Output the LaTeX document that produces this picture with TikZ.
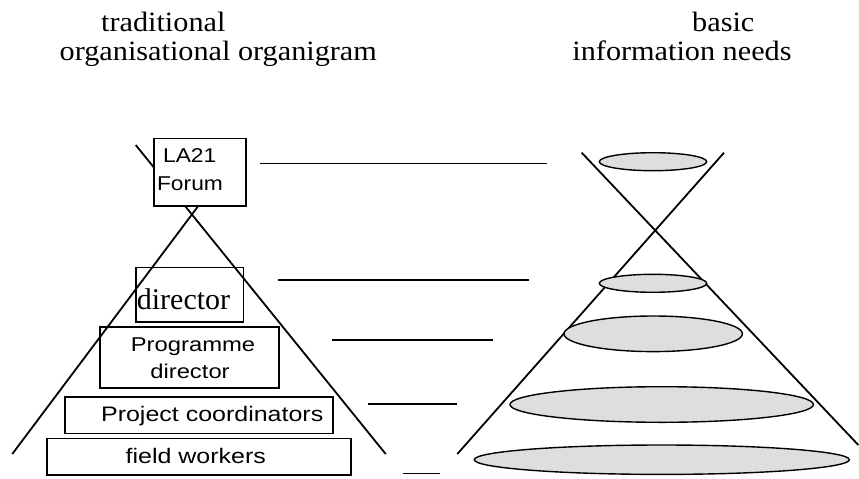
\documentclass[tikz,border=0pt]{standalone}
\usepackage{fontspec}
\usetikzlibrary{shapes.geometric}
\newfontfamily\titlefont[FakeStretch=1.08]{Liberation Serif}
\newfontfamily\boxserif{Liberation Serif}
\newfontfamily\boxsans[FakeStretch=1.19]{Liberation Sans}
\newfontfamily\boxsansnarrow[FakeStretch=1.14]{Liberation Sans}
\definecolor{discgray}{HTML}{DEDEDE}
\begin{document}
\begin{tikzpicture}[x=1pt,y=-1pt,
  title/.style={anchor=base,inner sep=0pt,font=\titlefont\fontsize{28}{33}\selectfont},
  sanslbl/.style={anchor=base,inner sep=0pt,font=\boxsans\fontsize{21}{25}\selectfont},
  sanssmall/.style={anchor=base,inner sep=0pt,font=\boxsans\fontsize{20}{24}\selectfont},
  sansnarrow/.style={anchor=base,inner sep=0pt,font=\boxsansnarrow\fontsize{20}{24}\selectfont},
  seriflbl/.style={anchor=base,inner sep=0pt,font=\boxserif\fontsize{30}{34}\selectfont},
  orgbox/.style={draw,line width=1.6pt,rectangle,inner sep=0pt},
  edge/.style={line width=1.8pt},
  disc/.style={ellipse,draw,line width=1.4pt,fill=discgray,inner sep=0pt},
  level/.style={line width=1.6pt}]
\useasboundingbox (0,0) rectangle (859,479);

% titles
\node[title] (t1) at (163.3,31.7) {traditional};
\node[title] (t2) at (218.3,60) {organisational organigram};
\node[title] (t3) at (723.3,31.7) {basic};
\node[title] (t4) at (682,60) {information needs};

% left pyramid lines
\coordinate (pr1) at (135.7,145);
\coordinate (pr2) at (385.7,454);
\coordinate (pl1) at (202.8,200);
\coordinate (pl2) at (12.3,454);
\draw[edge] (pr1) -- (pr2);
\draw[edge] (pl1) -- (pl2);

% boxes
\node[orgbox,fill=white,minimum width=92pt,minimum height=67.7pt] (la21) at (199.7,172.2) {};
\node[orgbox,minimum width=107.5pt,minimum height=54.4pt] (dir) at (189.75,294.5) {};
\node[orgbox,minimum width=179pt,minimum height=61pt] (prog) at (189.5,357.2) {};
\node[orgbox,minimum width=267.7pt,minimum height=36.6pt] (proj) at (198.85,415) {};
\node[orgbox,minimum width=304pt,minimum height=36.7pt] (field) at (198.7,456.7) {};

% box texts
\node[sansnarrow] (la21a) at (189.7,162.3) {LA21};
\node[sansnarrow] (la21b) at (190,190) {Forum};
\node[seriflbl] (dira) at (183.5,309) {director};
\node[sanssmall] (proga) at (193,351.7) {Programme};
\node[sanssmall] (progb) at (190,378.3) {director};
\node[sanslbl] (proja) at (212.2,421.2) {Project coordinators};
\node[sanslbl] (fielda) at (195.8,463.8) {field workers};

% level lines
\coordinate (h1a) at (260,163.3);   \coordinate (h1b) at (546.7,163.3);
\coordinate (h2a) at (278.3,280);   \coordinate (h2b) at (529,280);
\coordinate (h3a) at (332.3,340);   \coordinate (h3b) at (493.3,340);
\coordinate (h4a) at (367.7,404);   \coordinate (h4b) at (457.3,404);
\coordinate (h5a) at (403.3,473.3); \coordinate (h5b) at (440,473.3);
\draw[level] (h1a) -- (h1b);
\draw[level] (h2a) -- (h2b);
\draw[level] (h3a) -- (h3b);
\draw[level] (h4a) -- (h4b);
\draw[level] (h5a) -- (h5b);

% cone lines
\coordinate (ca1) at (581.7,152.7);
\coordinate (ca2) at (858.3,445);
\coordinate (cb1) at (724,152.7);
\coordinate (cb2) at (457.3,454);
\draw[edge] (ca1) -- (ca2);
\draw[edge] (cb1) -- (cb2);

% discs
\node[disc,minimum width=107.4pt,minimum height=18pt] (e1) at (653,161.7) {};
\node[disc,minimum width=107.4pt,minimum height=18pt] (e2) at (653,283.3) {};
\node[disc,minimum width=178.4pt,minimum height=35.6pt] (e3) at (653.2,333.8) {};
\node[disc,minimum width=303.4pt,minimum height=35.6pt] (e4) at (661.7,404.5) {};
\node[disc,minimum width=375pt,minimum height=29.4pt] (e5) at (661.8,459.7) {};
\end{tikzpicture}
\end{document}
